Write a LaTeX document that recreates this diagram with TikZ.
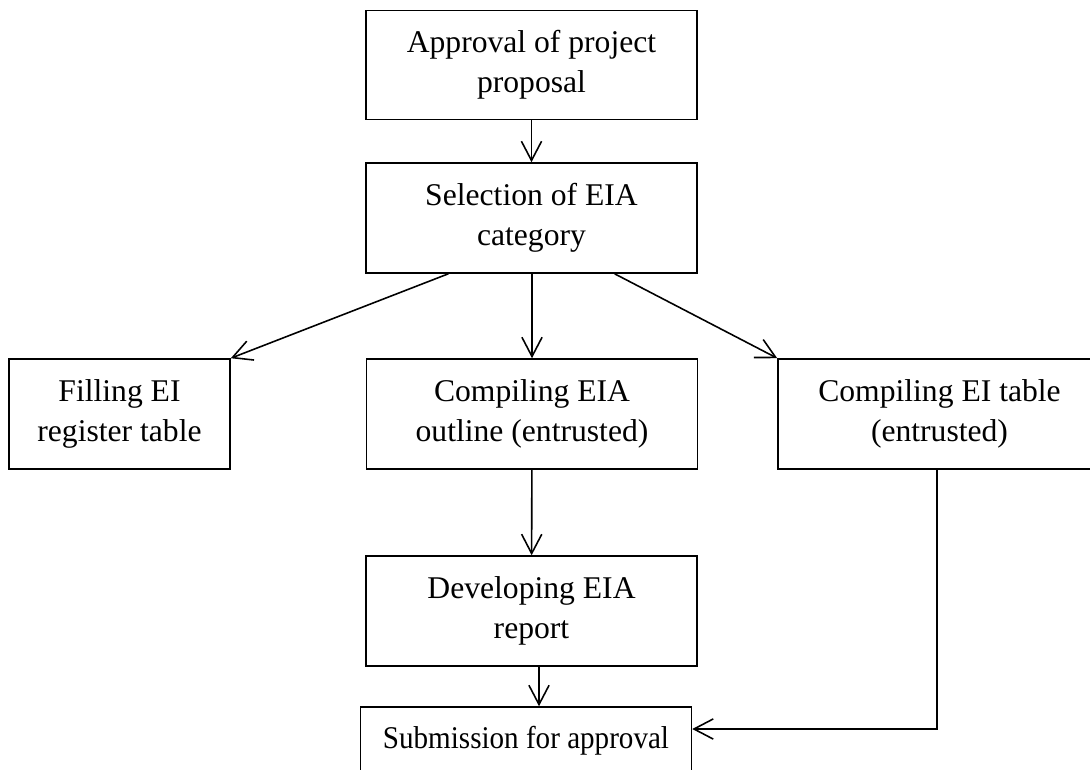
\documentclass[tikz,border=0pt]{standalone}
\usepackage{fontspec}
\setmainfont{Liberation Serif}
\usepackage{graphicx}
\usepackage{tikz}
\usetikzlibrary{arrows.meta,calc}
\definecolor{ink}{HTML}{000000}

\tikzset{
  stepbox/.style={draw=ink,line width=0.9pt,align=center,inner sep=0pt,
    minimum width=6.62cm,minimum height=2.18cm,
    font=\fontsize{18}{22.8}\selectfont},
  arr/.style={draw=ink,line width=0.9pt,-{Straight Barb[length=11pt,width=11.5pt]}}
}

\begin{document}
\begin{tikzpicture}[x=0.02cm,y=-0.02cm]
  \useasboundingbox (0,0) rectangle (1090,769);

  % Main column
  \node[stepbox] (appr) at (531.5,65) {Approval of project\\proposal};
  \node[stepbox,minimum height=2.2cm] (sel) at (531.5,218) {Selection of EIA\\category};

  % Three branches
  \node[stepbox,minimum width=4.42cm,minimum height=2.2cm] (fill) at (119.5,414) {Filling EI\\register table};
  \node[stepbox,minimum height=2.2cm] (outl) at (532,414) {Compiling EIA\\outline (entrusted)};
  \node[stepbox,minimum width=6.46cm,minimum height=2.2cm] (eitab) at (939.5,414) {Compiling EI table\\(entrusted)};

  \node[stepbox,minimum height=2.2cm] (dev) at (531.5,611) {Developing EIA\\report};
  \node[stepbox,minimum height=1.36cm] (sub) at (526,741) {\scalebox{0.92}[1]{Submission for approval}};

  % Connectors
  \draw[arr] (appr) -- (sel);
  \draw[arr] ($(sel.south west)!0.25!(sel.south east)$) -- (fill.north east);
  \draw[arr] (sel.south -| outl.north) -- (outl.north);
  \draw[arr] ($(sel.south west)!0.75!(sel.south east)$) -- (eitab.north west);
  \draw[arr] (outl) -- (dev);
  \draw[arr] ([xshift=0.15cm]dev.south) -- ([xshift=0.15cm]dev.south |- sub.north);
  \draw[arr] (eitab.south -| 937,0) |- ([yshift=0.24cm]sub.east);
\end{tikzpicture}
\end{document}
